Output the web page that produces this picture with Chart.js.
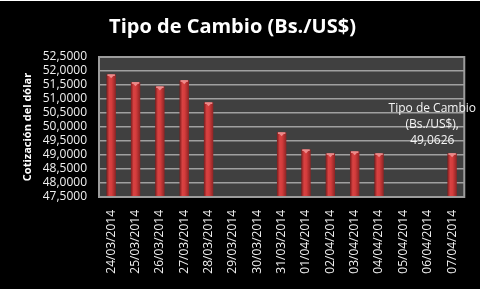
<!DOCTYPE html>
<html>
<head>
<meta charset="utf-8">
<script src="https://cdn.jsdelivr.net/npm/chart.js@4/dist/chart.umd.min.js"></script>
<style>
  html, body { margin: 0; padding: 0; background: #fff; }
  #wrap { position: absolute; left: 0; top: 1px; width: 480px; height: 288px; background: #000; }
</style>
</head>
<body>
<div id="wrap"><canvas id="grafico" width="480" height="288"></canvas></div>
<script>
// datos del grafico
const categorias = ['24/03/2014','25/03/2014','26/03/2014','27/03/2014','28/03/2014','29/03/2014','30/03/2014',
                    '31/03/2014','01/04/2014','02/04/2014','03/04/2014','04/04/2014','05/04/2014','06/04/2014','07/04/2014'];
const cotizacion = [51.88, 51.60, 51.45, 51.67, 50.88, null, null, 49.81, 49.20, 49.06, 49.13, 49.06, null, null, 49.0626];
const etiquetaUltimo = ['Tipo de Cambio', '(Bs./US$),', '49,0626'];
const yMin = 47.5, yMax = 52.5, yPaso = 0.5;

const fmt = v => v.toFixed(4).replace('.', ',');

// fondo del area de trazado
const plotBg = {
  id: 'plotBg',
  beforeDraw(chart) {
    const { ctx, chartArea: a } = chart;
    ctx.save();
    ctx.fillStyle = '#000';
    ctx.fillRect(0, 0, chart.width, chart.height);
    ctx.fillStyle = '#404040';
    ctx.fillRect(a.left, a.top, a.right - a.left, a.bottom - a.top);
    ctx.restore();
  },
  afterDraw(chart) {
    const { ctx, chartArea: a } = chart;
    ctx.save();
    ctx.strokeStyle = '#9c9c9c';
    ctx.lineWidth = 2;
    ctx.strokeRect(a.left, a.top, a.right - a.left, a.bottom - a.top);
    ctx.restore();
  }
};

// barras tipo cilindro
const barras3d = {
  id: 'barras3d',
  afterDatasetsDraw(chart) {
    const ctx = chart.ctx;
    const a = chart.chartArea;
    chart.getDatasetMeta(0).data.forEach((bar, i) => {
      if (cotizacion[i] == null) return;
      const w = bar.width, x0 = bar.x - w / 2, top = bar.y, bot = Math.min(bar.base, a.bottom);
      const g = ctx.createLinearGradient(x0, 0, x0 + w, 0);
      g.addColorStop(0, '#7a1c1c');
      g.addColorStop(0.3, '#d84242');
      g.addColorStop(0.55, '#d43c3c');
      g.addColorStop(1, '#8c2424');
      ctx.save();
      ctx.fillStyle = g;
      ctx.fillRect(x0, top, w, bot - top);
      // tapa superior
      ctx.fillStyle = '#f29a9a';
      ctx.fillRect(x0 + 1, top, w - 2, 1.5);
      ctx.beginPath();
      ctx.moveTo(x0 + 2, top + 1);
      ctx.lineTo(x0 + w - 2, top + 1);
      ctx.lineTo(bar.x, top + 4);
      ctx.closePath();
      ctx.fillStyle = '#ee8a8a';
      ctx.fill();
      ctx.restore();
    });
  }
};

const etiqueta = {
  id: 'etiqueta',
  afterDraw(chart) {
    const meta = chart.getDatasetMeta(0);
    const bar = meta.data[cotizacion.length - 1];
    const ctx = chart.ctx;
    ctx.save();
    ctx.font = '12px "Open Sans"';
    ctx.fillStyle = '#f4f4f4';
    ctx.textAlign = 'center';
    ctx.textBaseline = 'middle';
    const maxW = Math.max(...etiquetaUltimo.map(t => ctx.measureText(t).width));
    const cx = Math.min(bar.x, chart.width - 4 - maxW / 2);
    etiquetaUltimo.forEach((t, k) => {
      ctx.fillText(t, cx, bar.y - 13 - 16 * (etiquetaUltimo.length - 1 - k));
    });
    ctx.restore();
  }
};

new Chart(document.getElementById('grafico'), {
  type: 'bar',
  data: {
    labels: categorias,
    datasets: [{
      label: 'Tipo de Cambio (Bs./US$)',
      data: cotizacion,
      backgroundColor: 'rgba(0,0,0,0)',
      categoryPercentage: 0.9,
      barPercentage: 0.43
    }]
  },
  options: {
    responsive: false,
    animation: false,
    devicePixelRatio: 1,
    layout: { padding: { left: 0, right: 15, top: 0, bottom: 0 } },
    plugins: {
      legend: { display: false },
      tooltip: { enabled: false },
      title: {
        display: true,
        text: 'Tipo de Cambio (Bs./US$)',
        color: '#ffffff',
        font: { family: 'Open Sans', size: 20, weight: 'bold' },
        padding: { top: 14, bottom: 18 }
      }
    },
    scales: {
      x: {
        grid: { display: false, drawTicks: false },
        border: { display: false },
        ticks: {
          color: '#f0f0f0',
          font: { family: 'Open Sans', size: 12 },
          maxRotation: 90, minRotation: 90,
          autoSkip: false,
          padding: 13
        },
        afterFit(s) { s.height = 92; }
      },
      y: {
        min: yMin, max: yMax,
        grid: { color: '#a0a0a0', lineWidth: 1.5, drawTicks: false },
        border: { display: false },
        ticks: {
          stepSize: yPaso,
          autoSkip: false,
          color: '#f0f0f0',
          font: { family: 'Open Sans', size: 12 },
          padding: 12,
          callback: v => fmt(v)
        },
        title: {
          display: true,
          text: 'Cotización del dólar',
          color: '#ffffff',
          font: { family: 'Open Sans', size: 11, weight: 'bold' },
          padding: { top: 21, bottom: 0 }
        },
        afterFit(s) { s.width = 99; }
      }
    }
  },
  plugins: [plotBg, barras3d, etiqueta]
});
</script>
</body>
</html>
